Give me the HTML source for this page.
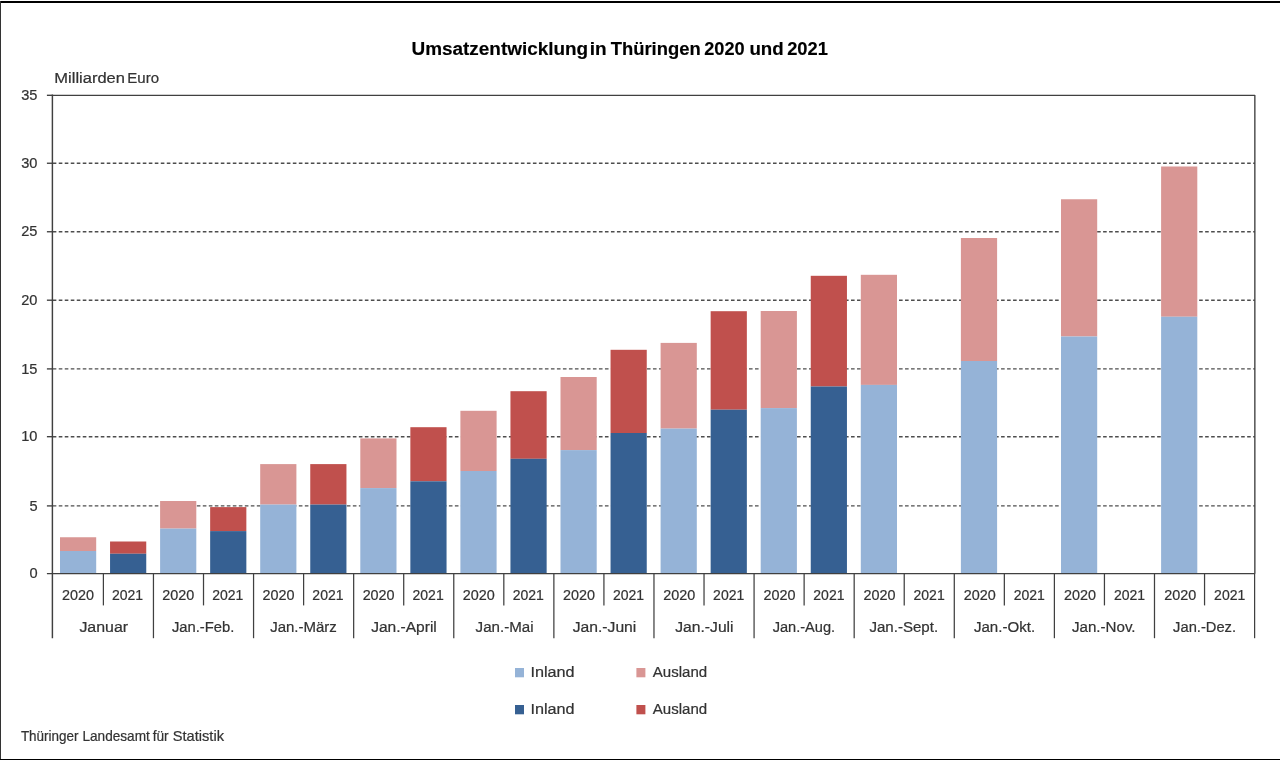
<!DOCTYPE html>
<html lang="de"><head><meta charset="utf-8"><title>Umsatzentwicklung in Thüringen 2020 und 2021</title>
<style>
html,body{margin:0;padding:0;background:#fff;}
body{width:1280px;height:760px;overflow:hidden;position:relative;font-family:"Liberation Sans",sans-serif;}
svg{position:absolute;left:0;top:0;display:block;will-change:transform;}
text{font-family:"Liberation Sans",sans-serif;fill:#333333;stroke:#333333;stroke-width:0.22px;}
</style></head><body>
<svg width="1280" height="760" viewBox="0 0 1280 760">
<rect x="0" y="0" width="1280" height="760" fill="#ffffff"/>

<rect x="0" y="1" width="1280" height="2" fill="#000"/>
<rect x="0" y="1" width="1" height="759" fill="#333"/>
<rect x="0" y="759" width="1280" height="1" fill="#000"/>
<text x="411.49" y="54.90" font-size="18" font-weight="bold" style="fill:#000;stroke:#000;stroke-width:0.15px" textLength="176.66" lengthAdjust="spacingAndGlyphs">Umsatzentwicklung</text>
<text x="589.65" y="54.90" font-size="18" font-weight="bold" style="fill:#000;stroke:#000;stroke-width:0.15px" textLength="16.91" lengthAdjust="spacingAndGlyphs">in</text>
<text x="610.66" y="54.90" font-size="18" font-weight="bold" style="fill:#000;stroke:#000;stroke-width:0.15px" textLength="90.02" lengthAdjust="spacingAndGlyphs">Thüringen</text>
<text x="704.16" y="54.90" font-size="18" font-weight="bold" style="fill:#000;stroke:#000;stroke-width:0.15px" textLength="40.45" lengthAdjust="spacingAndGlyphs">2020</text>
<text x="749.45" y="54.90" font-size="18" font-weight="bold" style="fill:#000;stroke:#000;stroke-width:0.15px" textLength="34.29" lengthAdjust="spacingAndGlyphs">und</text>
<text x="787.15" y="54.90" font-size="18" font-weight="bold" style="fill:#000;stroke:#000;stroke-width:0.15px" textLength="40.72" lengthAdjust="spacingAndGlyphs">2021</text>
<text x="54.34" y="82.70" font-size="15.2" textLength="70.67" lengthAdjust="spacingAndGlyphs">Milliarden</text>
<text x="127.27" y="82.70" font-size="15.2" textLength="31.76" lengthAdjust="spacingAndGlyphs">Euro</text>
<text x="20.88" y="741.00" font-size="14.4" textLength="57.69" lengthAdjust="spacingAndGlyphs">Thüringer</text>
<text x="82.42" y="741.00" font-size="14.4" textLength="67.39" lengthAdjust="spacingAndGlyphs">Landesamt</text>
<text x="152.66" y="741.00" font-size="14.4" textLength="16.01" lengthAdjust="spacingAndGlyphs">für</text>
<text x="172.78" y="741.00" font-size="14.4" textLength="51.23" lengthAdjust="spacingAndGlyphs">Statistik</text>
<line x1="52.75" y1="505.90" x2="1254.85" y2="505.90" stroke="#4d4d4d" stroke-width="1.35" stroke-dasharray="3.6 2.402"/>
<line x1="52.75" y1="436.70" x2="1254.85" y2="436.70" stroke="#4d4d4d" stroke-width="1.35" stroke-dasharray="3.6 2.402"/>
<line x1="52.75" y1="368.90" x2="1254.85" y2="368.90" stroke="#4d4d4d" stroke-width="1.35" stroke-dasharray="3.6 2.402"/>
<line x1="52.75" y1="300.20" x2="1254.85" y2="300.20" stroke="#4d4d4d" stroke-width="1.35" stroke-dasharray="3.6 2.402"/>
<line x1="52.75" y1="231.75" x2="1254.85" y2="231.75" stroke="#4d4d4d" stroke-width="1.35" stroke-dasharray="3.6 2.402"/>
<line x1="52.75" y1="163.25" x2="1254.85" y2="163.25" stroke="#4d4d4d" stroke-width="1.35" stroke-dasharray="3.6 2.402"/>
<rect x="60.00" y="537.25" width="36.20" height="13.75" fill="#d99694"/>
<rect x="60.00" y="551.00" width="36.20" height="22.63" fill="#95b3d7"/>
<rect x="110.05" y="541.50" width="36.20" height="12.25" fill="#c0504d"/>
<rect x="110.05" y="553.75" width="36.20" height="19.88" fill="#366092"/>
<rect x="160.10" y="501.00" width="36.20" height="27.60" fill="#d99694"/>
<rect x="160.10" y="528.60" width="36.20" height="45.03" fill="#95b3d7"/>
<rect x="210.15" y="507.10" width="36.20" height="24.00" fill="#c0504d"/>
<rect x="210.15" y="531.10" width="36.20" height="42.53" fill="#366092"/>
<rect x="260.20" y="464.10" width="36.20" height="40.50" fill="#d99694"/>
<rect x="260.20" y="504.60" width="36.20" height="69.03" fill="#95b3d7"/>
<rect x="310.25" y="464.10" width="36.20" height="40.50" fill="#c0504d"/>
<rect x="310.25" y="504.60" width="36.20" height="69.03" fill="#366092"/>
<rect x="360.30" y="438.40" width="36.20" height="49.70" fill="#d99694"/>
<rect x="360.30" y="488.10" width="36.20" height="85.53" fill="#95b3d7"/>
<rect x="410.35" y="427.20" width="36.20" height="54.10" fill="#c0504d"/>
<rect x="410.35" y="481.30" width="36.20" height="92.33" fill="#366092"/>
<rect x="460.40" y="410.80" width="36.20" height="60.20" fill="#d99694"/>
<rect x="460.40" y="471.00" width="36.20" height="102.63" fill="#95b3d7"/>
<rect x="510.45" y="391.20" width="36.20" height="67.60" fill="#c0504d"/>
<rect x="510.45" y="458.80" width="36.20" height="114.83" fill="#366092"/>
<rect x="560.50" y="377.00" width="36.20" height="73.10" fill="#d99694"/>
<rect x="560.50" y="450.10" width="36.20" height="123.53" fill="#95b3d7"/>
<rect x="610.55" y="349.80" width="36.20" height="83.20" fill="#c0504d"/>
<rect x="610.55" y="433.00" width="36.20" height="140.63" fill="#366092"/>
<rect x="660.60" y="342.90" width="36.20" height="85.70" fill="#d99694"/>
<rect x="660.60" y="428.60" width="36.20" height="145.03" fill="#95b3d7"/>
<rect x="710.65" y="311.20" width="36.20" height="98.50" fill="#c0504d"/>
<rect x="710.65" y="409.70" width="36.20" height="163.93" fill="#366092"/>
<rect x="760.70" y="311.00" width="36.20" height="97.10" fill="#d99694"/>
<rect x="760.70" y="408.10" width="36.20" height="165.53" fill="#95b3d7"/>
<rect x="810.75" y="275.80" width="36.20" height="110.70" fill="#c0504d"/>
<rect x="810.75" y="386.50" width="36.20" height="187.13" fill="#366092"/>
<rect x="860.80" y="274.80" width="36.20" height="110.10" fill="#d99694"/>
<rect x="860.80" y="384.90" width="36.20" height="188.73" fill="#95b3d7"/>
<rect x="960.90" y="238.00" width="36.20" height="123.00" fill="#d99694"/>
<rect x="960.90" y="361.00" width="36.20" height="212.63" fill="#95b3d7"/>
<rect x="1061.00" y="199.25" width="36.20" height="137.25" fill="#d99694"/>
<rect x="1061.00" y="336.50" width="36.20" height="237.13" fill="#95b3d7"/>
<rect x="1161.10" y="166.50" width="36.20" height="150.25" fill="#d99694"/>
<rect x="1161.10" y="316.75" width="36.20" height="256.88" fill="#95b3d7"/>
<path d="M52.40 95.30 H1254.85 V573.63" fill="none" stroke="#404040" stroke-width="1.35" stroke-linejoin="round"/>
<line x1="52.40" y1="94.62" x2="52.40" y2="638.20" stroke="#404040" stroke-width="1.4500000000000002"/>
<line x1="46.90" y1="573.63" x2="1254.85" y2="573.63" stroke="#404040" stroke-width="1.35"/>
<line x1="46.9" y1="505.90" x2="52.40" y2="505.90" stroke="#404040" stroke-width="1.35"/>
<line x1="46.9" y1="436.70" x2="52.40" y2="436.70" stroke="#404040" stroke-width="1.35"/>
<line x1="46.9" y1="368.90" x2="52.40" y2="368.90" stroke="#404040" stroke-width="1.35"/>
<line x1="46.9" y1="300.20" x2="52.40" y2="300.20" stroke="#404040" stroke-width="1.35"/>
<line x1="46.9" y1="231.75" x2="52.40" y2="231.75" stroke="#404040" stroke-width="1.35"/>
<line x1="46.9" y1="163.25" x2="52.40" y2="163.25" stroke="#404040" stroke-width="1.35"/>
<line x1="46.9" y1="95.30" x2="52.40" y2="95.30" stroke="#404040" stroke-width="1.35"/>
<text x="29.38" y="578.23" font-size="15.2" textLength="8.12" lengthAdjust="spacingAndGlyphs">0</text>
<text x="29.38" y="510.50" font-size="15.2" textLength="8.12" lengthAdjust="spacingAndGlyphs">5</text>
<text x="21.26" y="441.30" font-size="15.2" textLength="16.24" lengthAdjust="spacingAndGlyphs">10</text>
<text x="21.26" y="373.50" font-size="15.2" textLength="16.24" lengthAdjust="spacingAndGlyphs">15</text>
<text x="21.26" y="304.80" font-size="15.2" textLength="16.24" lengthAdjust="spacingAndGlyphs">20</text>
<text x="21.26" y="236.35" font-size="15.2" textLength="16.24" lengthAdjust="spacingAndGlyphs">25</text>
<text x="21.26" y="167.85" font-size="15.2" textLength="16.24" lengthAdjust="spacingAndGlyphs">30</text>
<text x="21.26" y="99.90" font-size="15.2" textLength="16.24" lengthAdjust="spacingAndGlyphs">35</text>
<line x1="103.40" y1="573.63" x2="103.40" y2="605.40" stroke="#404040" stroke-width="1.25"/>
<line x1="153.45" y1="573.63" x2="153.45" y2="638.20" stroke="#404040" stroke-width="1.25"/>
<line x1="203.51" y1="573.63" x2="203.51" y2="605.40" stroke="#404040" stroke-width="1.25"/>
<line x1="253.56" y1="573.63" x2="253.56" y2="638.20" stroke="#404040" stroke-width="1.25"/>
<line x1="303.61" y1="573.63" x2="303.61" y2="605.40" stroke="#404040" stroke-width="1.25"/>
<line x1="353.66" y1="573.63" x2="353.66" y2="638.20" stroke="#404040" stroke-width="1.25"/>
<line x1="403.71" y1="573.63" x2="403.71" y2="605.40" stroke="#404040" stroke-width="1.25"/>
<line x1="453.77" y1="573.63" x2="453.77" y2="638.20" stroke="#404040" stroke-width="1.25"/>
<line x1="503.82" y1="573.63" x2="503.82" y2="605.40" stroke="#404040" stroke-width="1.25"/>
<line x1="553.87" y1="573.63" x2="553.87" y2="638.20" stroke="#404040" stroke-width="1.25"/>
<line x1="603.92" y1="573.63" x2="603.92" y2="605.40" stroke="#404040" stroke-width="1.25"/>
<line x1="653.97" y1="573.63" x2="653.97" y2="638.20" stroke="#404040" stroke-width="1.25"/>
<line x1="704.03" y1="573.63" x2="704.03" y2="605.40" stroke="#404040" stroke-width="1.25"/>
<line x1="754.08" y1="573.63" x2="754.08" y2="638.20" stroke="#404040" stroke-width="1.25"/>
<line x1="804.13" y1="573.63" x2="804.13" y2="605.40" stroke="#404040" stroke-width="1.25"/>
<line x1="854.18" y1="573.63" x2="854.18" y2="638.20" stroke="#404040" stroke-width="1.25"/>
<line x1="904.23" y1="573.63" x2="904.23" y2="605.40" stroke="#404040" stroke-width="1.25"/>
<line x1="954.29" y1="573.63" x2="954.29" y2="638.20" stroke="#404040" stroke-width="1.25"/>
<line x1="1004.34" y1="573.63" x2="1004.34" y2="605.40" stroke="#404040" stroke-width="1.25"/>
<line x1="1054.39" y1="573.63" x2="1054.39" y2="638.20" stroke="#404040" stroke-width="1.25"/>
<line x1="1104.44" y1="573.63" x2="1104.44" y2="605.40" stroke="#404040" stroke-width="1.25"/>
<line x1="1154.49" y1="573.63" x2="1154.49" y2="638.20" stroke="#404040" stroke-width="1.25"/>
<line x1="1204.55" y1="573.63" x2="1204.55" y2="605.40" stroke="#404040" stroke-width="1.25"/>
<line x1="1254.60" y1="573.63" x2="1254.60" y2="638.20" stroke="#404040" stroke-width="1.25"/>
<text x="62.05" y="600.45" font-size="15.2" textLength="32.00" lengthAdjust="spacingAndGlyphs">2020</text>
<text x="111.95" y="600.45" font-size="15.2" textLength="31.20" lengthAdjust="spacingAndGlyphs">2021</text>
<text x="162.24" y="600.45" font-size="15.2" textLength="32.00" lengthAdjust="spacingAndGlyphs">2020</text>
<text x="212.14" y="600.45" font-size="15.2" textLength="31.20" lengthAdjust="spacingAndGlyphs">2021</text>
<text x="262.44" y="600.45" font-size="15.2" textLength="32.00" lengthAdjust="spacingAndGlyphs">2020</text>
<text x="312.33" y="600.45" font-size="15.2" textLength="31.20" lengthAdjust="spacingAndGlyphs">2021</text>
<text x="362.63" y="600.45" font-size="15.2" textLength="32.00" lengthAdjust="spacingAndGlyphs">2020</text>
<text x="412.53" y="600.45" font-size="15.2" textLength="31.20" lengthAdjust="spacingAndGlyphs">2021</text>
<text x="462.83" y="600.45" font-size="15.2" textLength="32.00" lengthAdjust="spacingAndGlyphs">2020</text>
<text x="512.72" y="600.45" font-size="15.2" textLength="31.20" lengthAdjust="spacingAndGlyphs">2021</text>
<text x="563.02" y="600.45" font-size="15.2" textLength="32.00" lengthAdjust="spacingAndGlyphs">2020</text>
<text x="612.92" y="600.45" font-size="15.2" textLength="31.20" lengthAdjust="spacingAndGlyphs">2021</text>
<text x="663.21" y="600.45" font-size="15.2" textLength="32.00" lengthAdjust="spacingAndGlyphs">2020</text>
<text x="713.11" y="600.45" font-size="15.2" textLength="31.20" lengthAdjust="spacingAndGlyphs">2021</text>
<text x="763.41" y="600.45" font-size="15.2" textLength="32.00" lengthAdjust="spacingAndGlyphs">2020</text>
<text x="813.30" y="600.45" font-size="15.2" textLength="31.20" lengthAdjust="spacingAndGlyphs">2021</text>
<text x="863.60" y="600.45" font-size="15.2" textLength="32.00" lengthAdjust="spacingAndGlyphs">2020</text>
<text x="913.50" y="600.45" font-size="15.2" textLength="31.20" lengthAdjust="spacingAndGlyphs">2021</text>
<text x="963.80" y="600.45" font-size="15.2" textLength="32.00" lengthAdjust="spacingAndGlyphs">2020</text>
<text x="1013.69" y="600.45" font-size="15.2" textLength="31.20" lengthAdjust="spacingAndGlyphs">2021</text>
<text x="1063.99" y="600.45" font-size="15.2" textLength="32.00" lengthAdjust="spacingAndGlyphs">2020</text>
<text x="1113.89" y="600.45" font-size="15.2" textLength="31.20" lengthAdjust="spacingAndGlyphs">2021</text>
<text x="1164.18" y="600.45" font-size="15.2" textLength="32.00" lengthAdjust="spacingAndGlyphs">2020</text>
<text x="1214.08" y="600.45" font-size="15.2" textLength="31.20" lengthAdjust="spacingAndGlyphs">2021</text>
<text x="79.40" y="632" font-size="15.2" textLength="48.70" lengthAdjust="spacingAndGlyphs">Januar</text>
<text x="171.88" y="632" font-size="15.2" textLength="62.45" lengthAdjust="spacingAndGlyphs">Jan.-Feb.</text>
<text x="270.15" y="632" font-size="15.2" textLength="66.70" lengthAdjust="spacingAndGlyphs">Jan.-März</text>
<text x="371.15" y="632" font-size="15.2" textLength="65.70" lengthAdjust="spacingAndGlyphs">Jan.-April</text>
<text x="475.62" y="632" font-size="15.2" textLength="57.95" lengthAdjust="spacingAndGlyphs">Jan.-Mai</text>
<text x="572.65" y="632" font-size="15.2" textLength="63.70" lengthAdjust="spacingAndGlyphs">Jan.-Juni</text>
<text x="675.17" y="632" font-size="15.2" textLength="58.45" lengthAdjust="spacingAndGlyphs">Jan.-Juli</text>
<text x="772.67" y="632" font-size="15.2" textLength="62.45" lengthAdjust="spacingAndGlyphs">Jan.-Aug.</text>
<text x="869.40" y="632" font-size="15.2" textLength="68.70" lengthAdjust="spacingAndGlyphs">Jan.-Sept.</text>
<text x="973.90" y="632" font-size="15.2" textLength="61.20" lengthAdjust="spacingAndGlyphs">Jan.-Okt.</text>
<text x="1071.90" y="632" font-size="15.2" textLength="63.70" lengthAdjust="spacingAndGlyphs">Jan.-Nov.</text>
<text x="1173.12" y="632" font-size="15.2" textLength="62.95" lengthAdjust="spacingAndGlyphs">Jan.-Dez.</text>
<rect x="515.00" y="668.00" width="9" height="9.3" fill="#95b3d7"/>
<text x="530.40" y="677.30" font-size="15.2" textLength="44.20" lengthAdjust="spacingAndGlyphs">Inland</text>
<rect x="636.40" y="668.00" width="9" height="9.3" fill="#d99694"/>
<text x="652.80" y="677.30" font-size="15.2" textLength="54.40" lengthAdjust="spacingAndGlyphs">Ausland</text>
<rect x="515.00" y="705.00" width="9" height="9.3" fill="#366092"/>
<text x="530.40" y="714.10" font-size="15.2" textLength="44.20" lengthAdjust="spacingAndGlyphs">Inland</text>
<rect x="636.40" y="705.00" width="9" height="9.3" fill="#c0504d"/>
<text x="652.80" y="714.10" font-size="15.2" textLength="54.40" lengthAdjust="spacingAndGlyphs">Ausland</text>
</svg></body></html>
